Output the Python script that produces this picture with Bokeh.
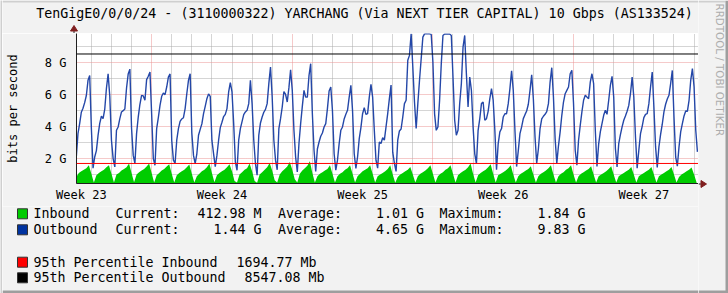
from math import pi
from bokeh.plotting import figure
from bokeh.layouts import row, column
from bokeh.models import Range1d, FixedTicker, Grid, Span
from bokeh.core.properties import value
from bokeh.embed import file_html
from bokeh.resources import INLINE

# ---------------- data ----------------
# outbound traffic (Gbps), one sample every 2 hours, first sample at day 3.25
out_start_day = 3.25
out_step_hours = 2
outbound_gbps = [
    2.1, 3.56, 4.19, 4.9, 5.15, 5.5, 5.95, 6.9, 7.2,                       # day 3 (from 06h)
    3.9, 1.4, 2.1, 2.5, 3.45, 4.2, 4.65, 4.5, 5.1, 6.4, 7.3, 5.9,          # day 4
    3.15, 2.0, 1.48, 3.77, 3.98, 4.5, 4.92, 5.0, 5.1, 6.4, 7.3, 7.6,       # day 5
    3.9, 2.2, 1.7, 3.56, 4.6, 5.4, 5.96, 5.92, 5.65, 6.94, 7.15, 7.42,     # day 6
    4.8, 2.0, 1.58, 3.88, 4.56, 5.33, 5.9, 6.1, 6.0, 6.48, 7.1, 7.3,       # day 7
    3.15, 1.9, 1.69, 3.15, 3.88, 4.33, 4.48, 4.56, 5.13, 6.06, 6.9, 7.31,  # day 8
    3.6, 2.2, 1.69, 2.3, 3.46, 3.83, 4.17, 4.81, 5.27, 5.75, 6.05, 5.9,    # day 9
    3.15, 2.3, 1.5, 2.2, 3.15, 3.94, 4.27, 4.63, 4.77, 5.13, 6.17, 6.75,   # day 10
    6.17, 4.19, 1.8, 1.27, 3.15, 3.88, 4.31, 4.75, 4.92, 5.02, 5.44, 6.9,  # day 11
    5.44, 3.15, 1.69, 0.96, 3.46, 4.23, 4.6, 4.9, 5.08, 5.44, 6.69, 7.73,  # day 12
    5.85, 3.15, 1.9, 1.3, 3.88, 4.5, 5.23, 6.2, 6.02, 5.54, 6.44, 7.55,    # day 13
    6.27, 3.77, 2.1, 1.17, 2.94, 4.19, 5.27, 6.27, 5.85, 5.85, 7.2, 7.94,  # day 14
    4.81, 2.52, 1.2, 2.6, 3.04, 3.4, 3.6, 3.98, 4.19, 5.13, 6.23, 6.48,    # day 15
    5.0, 2.3, 1.27, 1.9, 2.94, 3.77, 3.98, 4.48, 4.77, 5.02, 5.85, 6.58,   # day 16
    5.0, 2.3, 1.38, 2.1, 3.25, 3.94, 4.81, 5.19, 4.77, 4.81, 5.85, 6.65,   # day 17
    5.85, 3.77, 1.9, 1.4, 3.04, 2.94, 3.31, 3.15, 3.98, 4.81, 5.75, 6.6,   # day 18
    2.4, 1.7, 1.2, 3.15, 3.73, 3.85, 4.6, 5.44, 5.65, 8.15, 8.46, 9.81,    # day 19
    7.73, 5.54, 3.88, 5.44, 6.9, 8.25, 9.6, 9.81, 9.83, 9.81, 9.81, 9.77,  # day 20
    8.04, 4.8, 3.77, 3.98, 5.65, 7.94, 9.71, 9.8, 9.8, 9.8, 9.8, 9.71,     # day 21
    7.1, 4.4, 3.46, 3.77, 5.44, 6.69, 8.98, 9.71, 7.31, 5.23, 7.1, 6.27,   # day 22
    3.98, 2.3, 1.69, 3.77, 4.5, 5.44, 5.54, 4.4, 4.5, 4.96, 5.75, 6.38,    # day 23
    5.65, 3.77, 1.3, 2.94, 3.67, 3.88, 4.6, 4.81, 4.81, 5.44, 6.38, 7.5,   # day 24
    6.27, 3.77, 1.5, 2.5, 3.56, 3.98, 4.5, 4.75, 4.98, 5.4, 6.27, 7.25,    # day 25
    5.75, 3.35, 1.7, 2.6, 3.88, 4.48, 4.65, 4.77, 4.94, 5.44, 6.79, 7.69,  # day 26
    5.85, 3.25, 1.7, 2.8, 3.67, 4.71, 5.54, 6.06, 6.27, 6.48, 7.31, 7.52,  # day 27
    5.44, 2.52, 1.58, 3.15, 4.08, 4.92, 5.65, 5.96, 5.85, 5.75, 6.79, 7.31, # day 28
    6.69, 3.77, 1.5, 2.9, 3.67, 4.19, 4.71, 5.02, 4.77, 5.65, 6.58, 7.15,  # day 29
    5.85, 2.63, 1.48, 2.94, 3.5, 3.98, 4.4, 4.67, 4.96, 5.33, 6.06, 7.1,   # day 30
    5.85, 3.35, 1.4, 2.52, 3.56, 4.02, 4.56, 4.77, 4.81, 5.44, 6.48, 7.42, # day 31
    5.23, 2.73, 1.45, 2.73, 3.52, 4.15, 4.92, 5.4, 5.73, 5.96, 6.69, 7.52, # day 32
    4.6, 2.1, 1.52, 2.73, 3.67, 4.19, 4.67, 4.98, 4.96, 5.65, 6.9, 7.63,   # day 33
    6.48, 3.77, 2.42,                                                      # day 34
]

# inbound traffic (Gbps), one sample every 3 hours, first sample at day 3.25
in_start_day = 3.25
in_step_hours = 3
inbound_gbps = [
    0.85, 1.1, 1.2, 1.3, 1.4, 1.58,                 # day 3 (from 06h)
    1.05, 0.5, 0.95, 1.1, 1.2, 1.3, 1.45, 1.58,     # day 4
    1.05, 0.5, 1.0, 1.1, 1.25, 1.35, 1.45, 1.69,    # day 5
    1.1, 0.52, 1.0, 1.15, 1.25, 1.35, 1.5, 1.69,    # day 6
    1.1, 0.5, 0.95, 1.1, 1.25, 1.35, 1.5, 1.65,     # day 7
    1.05, 0.5, 0.95, 1.1, 1.2, 1.3, 1.45, 1.63,     # day 8
    1.05, 0.5, 0.9, 1.05, 1.2, 1.3, 1.45, 1.69,     # day 9
    1.1, 0.52, 0.95, 1.1, 1.2, 1.3, 1.45, 1.65,     # day 10
    1.2, 0.6, 0.5, 1.0, 1.15, 1.3, 1.4, 1.69,       # day 11
    1.2, 0.6, 0.48, 1.0, 1.15, 1.3, 1.45, 1.73,     # day 12
    1.25, 0.65, 0.5, 1.0, 1.2, 1.35, 1.5, 1.79,     # day 13
    1.3, 0.7, 0.5, 1.05, 1.25, 1.4, 1.55, 1.84,     # day 14
    1.1, 0.5, 0.9, 1.05, 1.15, 1.25, 1.35, 1.58,    # day 15
    1.05, 0.5, 0.9, 1.05, 1.15, 1.3, 1.4, 1.58,     # day 16
    1.05, 0.5, 0.9, 1.05, 1.2, 1.3, 1.4, 1.58,      # day 17
    1.05, 0.5, 0.9, 1.0, 1.1, 1.2, 1.35, 1.58,      # day 18
    1.0, 0.48, 0.85, 1.0, 1.1, 1.2, 1.3, 1.48,      # day 19
    1.0, 0.5, 0.9, 1.05, 1.15, 1.25, 1.4, 1.58,     # day 20
    1.05, 0.5, 0.9, 1.05, 1.15, 1.3, 1.4, 1.58,     # day 21
    1.05, 0.5, 0.95, 1.1, 1.2, 1.3, 1.45, 1.69,     # day 22
    1.05, 0.5, 0.95, 1.1, 1.2, 1.3, 1.45, 1.65,     # day 23
    1.05, 0.5, 0.95, 1.05, 1.15, 1.25, 1.4, 1.58,   # day 24
    1.0, 0.5, 0.9, 1.05, 1.15, 1.25, 1.35, 1.52,    # day 25
    1.0, 0.5, 0.9, 1.05, 1.15, 1.25, 1.4, 1.58,     # day 26
    1.0, 0.5, 0.9, 1.05, 1.15, 1.3, 1.4, 1.58,      # day 27
    1.0, 0.5, 0.9, 1.05, 1.15, 1.25, 1.35, 1.52,    # day 28
    1.0, 0.5, 0.9, 1.0, 1.1, 1.2, 1.35, 1.52,       # day 29
    1.0, 0.5, 0.9, 1.0, 1.1, 1.2, 1.3, 1.48,        # day 30
    1.0, 0.5, 0.9, 1.0, 1.1, 1.2, 1.3, 1.48,        # day 31
    1.0, 0.5, 0.9, 1.0, 1.1, 1.2, 1.3, 1.48,        # day 32
    1.0, 0.5, 0.85, 1.0, 1.1, 1.2, 1.3, 1.44,       # day 33
    1.0, 0.5,                                       # day 34
]

pct95_inbound_gbps = 1.69477
pct95_outbound_gbps = 8.54708

week_label_hours = [84, 252, 420, 588, 756]
week_labels = ["Week 23", "Week 24", "Week 25", "Week 26", "Week 27"]
week_boundary_hours = [168, 336, 504, 672]
day_hours = [h for h in range(96, 822, 24) if h % 168 != 0]
y_major_ticks = [2, 4, 6, 8]
y_major_labels = ["2 G", "4 G", "6 G", "8 G"]
y_minor_ticks = [1, 3, 5, 7, 9]

title_text = "TenGigE0/0/0/24 - (3110000322) YARCHANG (Via NEXT TIER CAPITAL) 10 Gbps (AS133524)"
series_names = ["Inbound", "Outbound"]
current_vals = ["412.98 M", "1.44 G"]
average_vals = ["1.01 G", "4.65 G"]
maximum_vals = ["1.84 G", "9.83 G"]
pct_names = ["95th Percentile Inbound", "95th Percentile Outbound"]
pct_vals = ["1694.77 Mb", "8547.08 Mb"]
watermark = "RRDTOOL / TOBI OETIKER"

IN_COLOR = "#00CC00"
OUT_COLOR = "#2447A8"
BG = "#F2F2F2"
SHADE_A = "#CFCFCF"
SHADE_B = "#9E9E9E"
ARROW = "#801F1F"
AXIS = "#1F1F1F"
MONO = "DejaVu Sans Mono"

out_hours = [out_start_day * 24 + i * out_step_hours for i in range(len(outbound_gbps))]
in_hours = [in_start_day * 24 + i * in_step_hours for i in range(len(inbound_gbps))]

# canvas layout (pixels): left shade 0-2 | main 2-698 | right strip 698-728
X0, X1 = 2, 698
MAIN_W = X1 - X0
TOP_H = 33
FRAME_H = 150
XAXIS_H = 23
CHART_H = FRAME_H + XAXIS_H
LEG_H = 293 - TOP_H - CHART_H
AXIS_Y = TOP_H + FRAME_H  # canvas row of the time axis


def strip(width, height, xr, yr, fill=BG):
    f = figure(width=width, height=height, output_backend="svg", toolbar_location=None,
               x_range=Range1d(*xr), y_range=Range1d(*yr),
               x_axis_type=None, y_axis_type=None, min_border=0,
               background_fill_color=fill, border_fill_color=fill,
               outline_line_color=None)
    f.grid.visible = False
    return f


# ---------------- title strip (canvas pixel coordinates) ----------------
t = strip(MAIN_W, TOP_H, (X0, X1), (TOP_H, 0))
t.quad(left=[X0], right=[X1], top=[0], bottom=[2], fill_color=SHADE_A, line_color=None)
t.text(x=[364], y=[12.5], text=[title_text], text_align="center", text_baseline="middle",
       text_font=value(MONO), text_font_size=value("13.3px"), text_color="black")
t.segment(x0=[73.5], y0=[30], x1=[73.5], y1=[33], line_color=AXIS, line_width=1)
t.patch(x=[70, 77, 73.5], y=[30.5, 30.5, 25], fill_color=ARROW, line_color=ARROW)

# ---------------- chart ----------------
p = figure(width=MAIN_W, height=CHART_H, output_backend="svg", toolbar_location=None,
           x_range=Range1d(3.26 * 24, 34.22 * 24), y_range=Range1d(0.44, 9.83),
           min_border_left=73 - X0, min_border_right=0,
           min_border_top=0, min_border_bottom=XAXIS_H,
           background_fill_color="white", border_fill_color=BG,
           outline_line_color=None)

p.xgrid.grid_line_color = None
p.ygrid.grid_line_color = None

GRID = "#ABABAB"
MGRID = "#EB9595"
p.add_layout(Grid(dimension=0, ticker=FixedTicker(ticks=day_hours),
                  grid_line_color=GRID, grid_line_dash="1 1"), "center")
p.add_layout(Grid(dimension=1, ticker=FixedTicker(ticks=y_minor_ticks),
                  grid_line_color=GRID, grid_line_dash="1 1"), "center")
p.add_layout(Grid(dimension=0, ticker=FixedTicker(ticks=week_boundary_hours),
                  grid_line_color=MGRID, grid_line_dash="1 1"), "center")
p.add_layout(Grid(dimension=1, ticker=FixedTicker(ticks=y_major_ticks),
                  grid_line_color=MGRID, grid_line_dash="1 1"), "center")

xa = p.xaxis[0]
xa.ticker = FixedTicker(ticks=week_label_hours)
xa.major_label_overrides = {h: t_ for h, t_ in zip(week_label_hours, week_labels)}
ya = p.yaxis[0]
ya.ticker = FixedTicker(ticks=y_major_ticks)
ya.major_label_overrides = {v: t_ for v, t_ in zip(y_major_ticks, y_major_labels)}
for ax in (xa, ya):
    ax.axis_line_color = AXIS
    ax.major_tick_line_color = None
    ax.minor_tick_line_color = None
    ax.major_tick_out = 0
    ax.major_tick_in = 0
    ax.minor_tick_out = 0
    ax.major_label_text_font = MONO
    ax.major_label_text_font_size = "12px"
    ax.major_label_text_color = "black"
xa.major_label_standoff = 4
ya.major_label_standoff = 10
ya.axis_label = "bits per second"
ya.axis_label_text_font = MONO
ya.axis_label_text_font_size = "12px"
ya.axis_label_text_font_style = "normal"
ya.axis_label_text_color = "black"
ya.axis_label_standoff = 22

p.varea(x=in_hours, y1=0, y2=inbound_gbps, fill_color=IN_COLOR)
p.line(out_hours, outbound_gbps, line_color=OUT_COLOR, line_width=1.4)

p.add_layout(Span(location=pct95_inbound_gbps, dimension="width",
                  line_color="#FF0000", line_width=1))
p.add_layout(Span(location=pct95_outbound_gbps, dimension="width",
                  line_color="#000000", line_width=1))

# ---------------- legend strip (canvas pixel coordinates) ----------------
q = strip(MAIN_W, LEG_H, (X0, X1), (293, TOP_H + CHART_H))

row_y = [213.3, 229.3]
pct_y = [261.7, 277.3]
sw_y = row_y + pct_y
sw_colors = [IN_COLOR, "#0033A0", "#FF0000", "#000000"]
q.quad(left=[17] * 4, right=[27] * 4, top=[y - 5 for y in sw_y], bottom=[y + 5 for y in sw_y],
       fill_color=sw_colors, line_color="#333333", line_width=1)


def txt(xs, ys, texts, align):
    q.text(x=xs, y=ys, text=texts, text_align=align, text_baseline="middle",
           text_font=value(MONO), text_font_size=value("13.3px"), text_color="black")


txt([33, 33], row_y, series_names, "left")
txt([115, 115], row_y, ["Current:"] * 2, "left")
txt([261, 261], row_y, current_vals, "right")
txt([277.5, 277.5], row_y, ["Average:"] * 2, "left")
txt([423.5, 423.5], row_y, average_vals, "right")
txt([439, 439], row_y, ["Maximum:"] * 2, "left")
txt([585, 585], row_y, maximum_vals, "right")
txt([33, 33], pct_y, pct_names, "left")
txt([236, 244], pct_y, pct_vals, "left")
q.quad(left=[X0], right=[X1], top=[290], bottom=[293], fill_color=SHADE_B, line_color=None)

# ---------------- right strip with arrow and watermark ----------------
r = strip(728 - X1, 293, (X1, 728), (293, 0))
r.quad(left=[X1], right=[725], top=[0], bottom=[2], fill_color=SHADE_A, line_color=None)
r.text(x=[719], y=[3], text=[watermark], angle=-pi / 2, text_align="left",
       text_baseline="middle", text_font=value("DejaVu Sans"),
       text_font_size=value("10.3px"), text_color="#ADADAD")
r.segment(x0=[X1], y0=[AXIS_Y + 0.5], x1=[700.5], y1=[AXIS_Y + 0.5], line_color=AXIS, line_width=1)
r.patch(x=[700.5, 700.5, 706], y=[AXIS_Y - 3, AXIS_Y + 4, AXIS_Y + 0.5],
        fill_color=ARROW, line_color=ARROW)
r.quad(left=[725, X1], right=[728, 728], top=[0, 290], bottom=[293, 293],
       fill_color=SHADE_B, line_color=None)

# ---------------- left shade ----------------
s = strip(X0, 293, (0, X0), (293, 0), fill=SHADE_A)

layout = row(s, column(row(t, spacing=0), p, row(q, spacing=0), spacing=0), r, spacing=0)
open("out.html", "w").write(file_html(layout, INLINE))
